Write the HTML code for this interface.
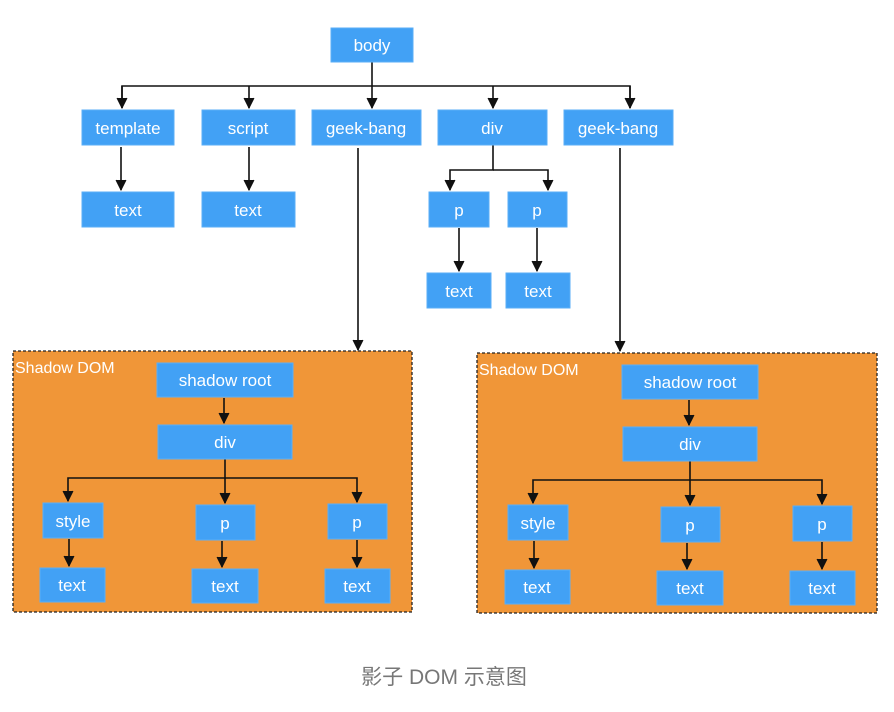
<!DOCTYPE html>
<html><head><meta charset="utf-8"><style>
html,body{margin:0;padding:0;background:#fff;}
svg{display:block;}
text{font-family:"Liberation Sans","Noto Sans CJK SC",sans-serif;}
.b{fill:#42a1f5;stroke:#5aaef7;stroke-width:1;}
.t{fill:#fff;font-size:17px;text-anchor:middle;}
.l{stroke:#111;stroke-width:1.6;fill:none;}
</style></head><body>
<svg width="894" height="712" viewBox="0 0 894 712" xmlns="http://www.w3.org/2000/svg">
<defs>
<marker id="d" markerWidth="12" markerHeight="12" refX="6" refY="11" markerUnits="userSpaceOnUse"><path d="M1,1 L6,11 L11,1" fill="#111" stroke="#111" stroke-width="1"/></marker></defs>

<rect x="13" y="351" width="399" height="261" fill="#f09638" stroke="#222" stroke-width="1.3" stroke-dasharray="3,2"/>
<rect x="477" y="353" width="400" height="260" fill="#f09638" stroke="#222" stroke-width="1.3" stroke-dasharray="3,2"/>
<text x="15" y="373" fill="#fff" font-size="16">Shadow DOM</text>
<text x="479" y="375" fill="#fff" font-size="16">Shadow DOM</text>

<g class="l">
<path d="M372,62 V108" marker-end="url(#d)"/>
<path d="M122,108 V86 H630 V108" />
<path d="M122,86 V108" marker-end="url(#d)"/>
<path d="M249,86 V108" marker-end="url(#d)"/>
<path d="M493,86 V108" marker-end="url(#d)"/>
<path d="M630,86 V108" marker-end="url(#d)"/>
<path d="M121,147 V190" marker-end="url(#d)"/>
<path d="M249,147 V190" marker-end="url(#d)"/>
<path d="M493,145 V170 H450 V190" marker-end="url(#d)"/>
<path d="M493,170 H548 V190" marker-end="url(#d)"/>
<path d="M459,228 V271" marker-end="url(#d)"/>
<path d="M537,228 V271" marker-end="url(#d)"/>
<path d="M358,148 V350" marker-end="url(#d)"/>
<path d="M620,148 V351" marker-end="url(#d)"/>

<path d="M224,398 V423" marker-end="url(#d)"/>
<path d="M225,459 V478 H68 V501" marker-end="url(#d)"/>
<path d="M225,478 V503" marker-end="url(#d)"/>
<path d="M225,478 H357 V502" marker-end="url(#d)"/>
<path d="M69,539 V566" marker-end="url(#d)"/>
<path d="M222,541 V567" marker-end="url(#d)"/>
<path d="M357,540 V567" marker-end="url(#d)"/>

<path d="M689,400 V425" marker-end="url(#d)"/>
<path d="M690,461 V480 H533 V503" marker-end="url(#d)"/>
<path d="M690,480 V505" marker-end="url(#d)"/>
<path d="M690,480 H822 V504" marker-end="url(#d)"/>
<path d="M534,541 V568" marker-end="url(#d)"/>
<path d="M687,543 V569" marker-end="url(#d)"/>
<path d="M822,542 V569" marker-end="url(#d)"/>
</g>

<g>
<rect class="b" x="331" y="28" width="82" height="34"/><text class="t" x="372" y="51">body</text>
<rect class="b" x="82" y="110" width="92" height="35"/><text class="t" x="128" y="134">template</text>
<rect class="b" x="202" y="110" width="93" height="35"/><text class="t" x="248" y="134">script</text>
<rect class="b" x="312" y="110" width="109" height="35"/><text class="t" x="366" y="134">geek-bang</text>
<rect class="b" x="438" y="110" width="109" height="35"/><text class="t" x="492" y="134">div</text>
<rect class="b" x="564" y="110" width="109" height="35"/><text class="t" x="618" y="134">geek-bang</text>
<rect class="b" x="82" y="192" width="92" height="35"/><text class="t" x="128" y="216">text</text>
<rect class="b" x="202" y="192" width="93" height="35"/><text class="t" x="248" y="216">text</text>
<rect class="b" x="429" y="192" width="60" height="35"/><text class="t" x="459" y="216">p</text>
<rect class="b" x="508" y="192" width="59" height="35"/><text class="t" x="537" y="216">p</text>
<rect class="b" x="427" y="273" width="64" height="35"/><text class="t" x="459" y="297">text</text>
<rect class="b" x="506" y="273" width="64" height="35"/><text class="t" x="538" y="297">text</text>

<rect class="b" x="157" y="363" width="136" height="34"/><text class="t" x="225" y="386">shadow root</text>
<rect class="b" x="158" y="425" width="134" height="34"/><text class="t" x="225" y="448">div</text>
<rect class="b" x="43" y="503" width="60" height="35"/><text class="t" x="73" y="527">style</text>
<rect class="b" x="196" y="505" width="59" height="35"/><text class="t" x="225" y="529">p</text>
<rect class="b" x="328" y="504" width="59" height="35"/><text class="t" x="357" y="528">p</text>
<rect class="b" x="40" y="568" width="65" height="34"/><text class="t" x="72" y="591">text</text>
<rect class="b" x="192" y="569" width="66" height="34"/><text class="t" x="225" y="592">text</text>
<rect class="b" x="325" y="569" width="65" height="34"/><text class="t" x="357" y="592">text</text>

<rect class="b" x="622" y="365" width="136" height="34"/><text class="t" x="690" y="388">shadow root</text>
<rect class="b" x="623" y="427" width="134" height="34"/><text class="t" x="690" y="450">div</text>
<rect class="b" x="508" y="505" width="60" height="35"/><text class="t" x="538" y="529">style</text>
<rect class="b" x="661" y="507" width="59" height="35"/><text class="t" x="690" y="531">p</text>
<rect class="b" x="793" y="506" width="59" height="35"/><text class="t" x="822" y="530">p</text>
<rect class="b" x="505" y="570" width="65" height="34"/><text class="t" x="537" y="593">text</text>
<rect class="b" x="657" y="571" width="66" height="34"/><text class="t" x="690" y="594">text</text>
<rect class="b" x="790" y="571" width="65" height="34"/><text class="t" x="822" y="594">text</text>
</g>

<text x="444" y="684" fill="#777" font-size="21" text-anchor="middle">影子 DOM 示意图</text>
</svg>
</body></html>
